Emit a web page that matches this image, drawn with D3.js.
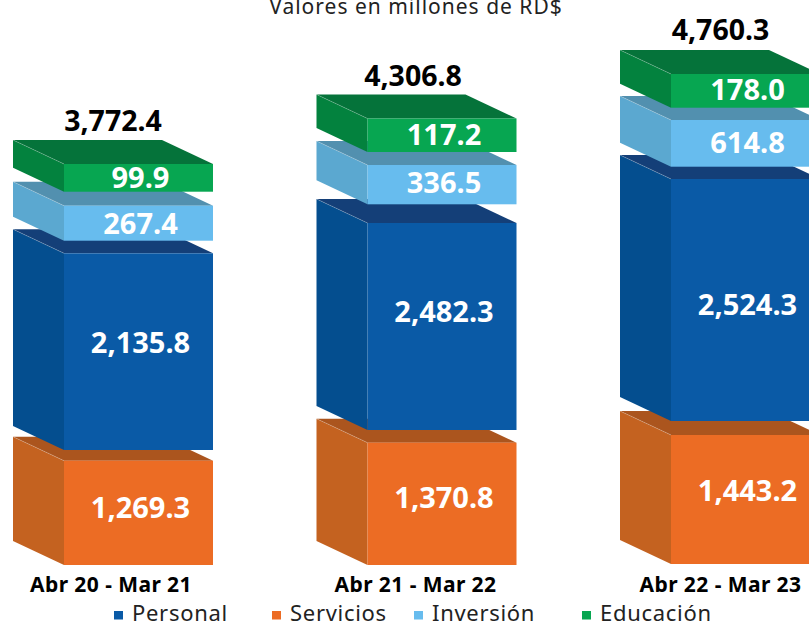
<!DOCTYPE html>
<html><head><meta charset="utf-8">
<style>html,body{margin:0;padding:0;background:#fff;overflow:hidden}svg{display:block}</style>
<script src="https://cdn.jsdelivr.net/npm/d3@7"></script></head>
<body><svg id="c" width="809" height="621"></svg>
<script>
const title = "Valores en millones de RD$";
const periods = ["Abr 20 - Mar 21","Abr 21 - Mar 22","Abr 22 - Mar 23"];
const seriesNames = ["Personal","Servicios","Inversión","Educación"];
const servicios = [1269.3,1370.8,1443.2];
const personal  = [2135.8,2482.3,2524.3];
const inversion = [267.4,336.5,614.8];
const educacion = [99.9,117.2,178.0];
const totals    = [3772.4,4306.8,4760.3];

// the source's block heights are not proportional to its values: piecewise scale
const heightKnots = [99.9,117.2,178,267.4,336.5,614.8,1269.3,1370.8,1443.2,2135.8,2482.3,2524.3];
const heightPx    = [27.7,33.5,33.7,35,39.3,46.7,104.3,122.3,129,196.7,207,242];
const h = d3.scaleLinear().domain(heightKnots).range(heightPx);
const x = d3.scalePoint().domain(periods).range([13,620]);
const gaps = [[10.7,12.6,14],[12.7,18.7,13],[14,12.3,12.3]];
const baseYs = [565,565,564];
const labelDy = [[-5,-9,1,0],[-6,-15,-2,0],[-9,4.5,-0.5,-1]];
const totalDx = [0,-3.5,0.5];
const totalDy = [0,0,-1];
const catDx = [-1,0,1.5];
const dx = 51, dy = 24, fw = 149;

const stack = [
 {v:servicios,f:"#EC6C24",s:"#C46220",t:"#AB551E"},
 {v:personal, f:"#0A5AA6",s:"#044E8F",t:"#143F78"},
 {v:inversion,f:"#67BCEE",s:"#5BA8D0",t:"#5290AF"},
 {v:educacion,f:"#07A651",s:"#03823E",t:"#05733A"}];
const legendColors = ["#0A5AA6","#EC6C24","#67BCEE","#07A651"];
const legendX = [114,272,414,582];
const FONT = "'Noto Sans',sans-serif";
const fmt = d3.format(",.1f");
const svg = d3.select("#c");

svg.append("text").attr("x",416).attr("y",14).attr("text-anchor","middle")
  .attr("font-family",FONT).attr("font-size",21).attr("fill","#222").style("letter-spacing","1px").text(title);

periods.forEach((p,i)=>{
  const L = x(p); let bottom = baseYs[i]; let top = bottom;
  const g = svg.append("g");
  stack.forEach((sr,k)=>{
    const ht = h(sr.v[i]); top = bottom-ht;
    const F = L+dx;
    const b = g.append("g");
    b.append("path").attr("fill",sr.s).attr("d",`M${L},${top-dy}L${F},${top}L${F},${bottom}L${L},${bottom-dy}Z`);
    b.append("path").attr("fill",sr.t).attr("d",`M${L},${top-dy}L${L+fw},${top-dy}L${F+fw},${top}L${F},${top}Z`);
    b.append("path").attr("fill","none").attr("stroke","#fff").attr("stroke-opacity",.3).attr("stroke-width",.7).attr("d",`M${L},${top-dy}L${F},${top}`);
    b.append("rect").attr("x",F).attr("y",top).attr("width",fw).attr("height",ht).attr("fill",sr.f);
    b.append("text").attr("x",F+fw/2+2).attr("y",top+ht/2+10+labelDy[i][k]).attr("text-anchor","middle")
      .attr("font-family",FONT).attr("font-weight",700).attr("font-size",29).attr("fill","#fff").text(fmt(sr.v[i]));
    if(k<3) bottom = top-gaps[i][k];
  });
  svg.append("text").attr("x",L+100+totalDx[i]).attr("y",top-dy-9+totalDy[i]).attr("text-anchor","middle")
    .attr("font-family",FONT).attr("font-weight",700).attr("font-size",28.5).attr("fill","#000").text(fmt(totals[i]));
  svg.append("text").attr("x",L+99+catDx[i]).attr("y",592).attr("text-anchor","middle")
    .attr("font-family",FONT).attr("font-weight",700).attr("font-size",21).attr("fill","#000").style("letter-spacing","0.43px").text(p);
});

seriesNames.forEach((n,i)=>{
  svg.append("rect").attr("x",legendX[i]).attr("y",611).attr("width",9).attr("height",8.5).attr("fill",legendColors[i]);
  svg.append("text").attr("x",legendX[i]+18).attr("y",621).attr("font-family",FONT).attr("font-size",22).attr("fill","#222").style("letter-spacing","0.7px").text(n);
});
</script></body></html>
